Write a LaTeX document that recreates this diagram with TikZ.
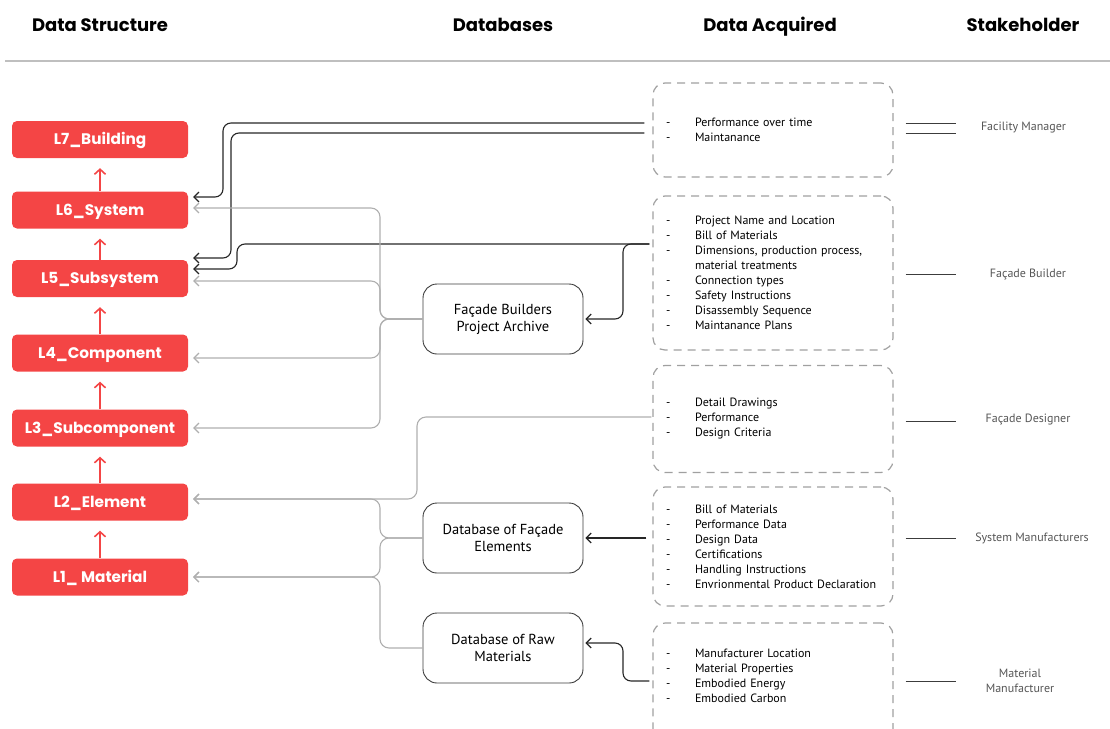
\documentclass[tikz,border=0pt]{standalone}
\usepackage{fontspec}
\setmainfont{PT Sans}
\newfontfamily\headfont{Poppins}
\usepackage{xcolor}
\usepackage{tikz}
\usetikzlibrary{arrows.meta,positioning,calc}
\definecolor{lred}{RGB}{244,69,69}
\definecolor{lgray}{RGB}{175,175,175}
\definecolor{dgray}{RGB}{60,60,60}
\definecolor{dashgray}{RGB}{160,160,160}
\definecolor{stxt}{RGB}{85,85,85}
\newcommand{\itm}[1]{\makebox[29pt][l]{-}#1}
\newcommand{\itc}[1]{\hspace*{29pt}#1}
\tikzset{
  head/.style  ={anchor=base, font=\headfont\bfseries\fontsize{18}{21}\selectfont},
  lvl/.style   ={rectangle, rounded corners=5pt, fill=lred, draw=none,
                 minimum width=176pt, minimum height=37pt, text=white,
                 text height=12pt, text depth=1.5pt,
                 font=\headfont\bfseries\fontsize{15.3}{17}\selectfont},
  dbbox/.style ={rectangle, rounded corners=14pt, draw=dgray, line width=0.9pt,
                 minimum width=160pt, minimum height=70pt, align=center,
                 font=\fontsize{14.5}{17}\selectfont},
  acqbox/.style={rectangle, rounded corners=12pt, draw=dashgray, line width=1.2pt,
                 dash pattern=on 8pt off 6pt, minimum width=240pt, text width=214pt,
                 inner xsep=13pt, align=left, font=\fontsize{12}{15}\selectfont},
  stk/.style   ={font=\fontsize{12}{15.5}\selectfont, text=stxt, align=center},
  upar/.style  ={draw=lred, line width=1.6pt, -{Straight Barb[length=5pt,width=11pt]}},
  blk/.style   ={draw=black!85, line width=1.1pt, rounded corners=8pt,
                 -{Straight Barb[length=5pt,width=10pt]}},
  gry/.style   ={draw=lgray, line width=1.1pt, rounded corners=9pt,
                 -{Straight Barb[length=5pt,width=10pt]}},
  sline/.style ={draw=dgray, line width=1pt}
}
\begin{document}
\begin{tikzpicture}[x=1pt,y=-1pt]
\useasboundingbox (0,0) rectangle (1110,728);

% column headers
\node[head] (hstruct) at (100,31)  {Data Structure};
\node[head] (hdb)     at (503,31)  {Databases};
\node[head] (hacq)    at (770,31)  {Data Acquired};
\node[head] (hstake)  at (1023,31) {Stakeholder};
\draw[draw=black!25, line width=1.6pt] (5,61) -- (1110,61);

% data structure levels
\node[lvl] (l7) at (100,139.5) {L7\_Building};
\node[lvl] (l6) at (100,210)   {L6\_System};
\node[lvl] (l5) at (100,278.5) {L5\_Subsystem};
\node[lvl] (l4) at (100,353)   {L4\_Component};
\node[lvl] (l3) at (100,428)   {L3\_Subcomponent};
\node[lvl] (l2) at (100,502)   {L2\_Element};
\node[lvl] (l1) at (100,577)   {L1\_ Material};

\draw[upar] (l1.north) -- ([yshift=-10pt]l2.south);
\draw[upar] (l2.north) -- ([yshift=-10pt]l3.south);
\draw[upar] (l3.north) -- ([yshift=-10pt]l4.south);
\draw[upar] (l4.north) -- ([yshift=-10pt]l5.south);
\draw[upar] (l5.north) -- ([yshift=-10pt]l6.south);
\draw[upar] (l6.north) -- ([yshift=-10pt]l7.south);

% databases
\node[dbbox] (fbpa) at (503,319) {Façade Builders\\Project Archive};
\node[dbbox] (dfe)  at (503,538) {Database of Façade\\Elements};
\node[dbbox] (drm)  at (503,648) {Database of Raw\\Materials};

% data acquired
\node[acqbox, minimum height=94pt] (acq1) at (773,130)
  {\itm{Performance over time}\\\itm{Maintanance}};
\node[acqbox, minimum height=154pt] (acq2) at (773,273)
  {\itm{Project Name and Location}\\\itm{Bill of Materials}\\
   \itm{Dimensions, production process,}\\\itc{material treatments}\\
   \itm{Connection types}\\\itm{Safety Instructions}\\
   \itm{Disassembly Sequence}\\\itm{Maintanance Plans}};
\node[acqbox, minimum height=107pt] (acq3) at (773,419)
  {\itm{Detail Drawings}\\\itm{Performance}\\\itm{Design Criteria}};
\node[acqbox, minimum height=119pt] (acq4) at (773,546.5)
  {\itm{Bill of Materials}\\\itm{Performance Data}\\\itm{Design Data}\\
   \itm{Certifications}\\\itm{Handling Instructions}\\
   \itm{Envrionmental Product Declaration}};
\node[acqbox, minimum height=122pt] (acq5) at (773,684)
  {\itm{Manufacturer Location}\\\itm{Material Properties}\\
   \itm{Embodied Energy}\\\itm{Embodied Carbon}\\[2pt]\mbox{}};

% stakeholders
\node[stk] (sh1) at (1023.5,128) {Facility Manager};
\node[stk] (sh2) at (1028,274)   {Façade Builder};
\node[stk] (sh3) at (1028,420)   {Façade Designer};
\node[stk] (sh4) at (1032,538)   {System Manufacturers};
\node[stk] (sh5) at (1020,681)   {Material\\Manufacturer};

\draw[sline] ($(acq1.east)+(12,-7)$)   -- ++(50,0);
\draw[sline] ($(acq1.east)+(12,3)$)    -- ++(50,0);
\draw[sline] ($(acq2.east)+(12,1)$)    -- ++(50,0);
\draw[sline] ($(acq3.east)+(12,2)$)    -- ++(50,0);
\draw[sline] ($(acq4.east)+(12,-8.5)$) -- ++(50,0);
\draw[sline] ($(acq5.east)+(12,-3)$)   -- ++(50,0);

% acquired data -> levels and databases
\draw[blk] ($(acq1.west)+(-8,-7)$) -- (223,123) |- ($(l6.east)+(5,-13)$);
\draw[blk] ($(acq1.west)+(-8,3)$)  -- (231,133) |- ($(l5.east)+(5,-20.5)$);
\draw[blk] ($(acq2.west)+(-3,-29)$) -- (237,244) |- ($(l5.east)+(5,-9.5)$);
\draw[blk] ($(acq2.west)+(-3,-29)$) -- (623,244) |- ($(fbpa.east)+(2,0)$);
\draw[blk] ($(acq4.west)+(-6,-8.5)$) -- ($(dfe.east)+(2,0)$);
\draw[blk] ($(acq5.west)+(-3,-3)$) -- (623,681) |- ($(drm.east)+(2,-5)$);
\draw[gry] ($(acq3.west)+(-1,-2)$) -- (417,417) |- ($(l2.east)+(5,-3)$);

% databases -> levels
\draw[gry] (fbpa.west) -- (380,319) |- ($(l6.east)+(5,-2)$);
\draw[gry] (fbpa.west) -- (380,319) |- ($(l5.east)+(5,2.5)$);
\draw[gry] (fbpa.west) -- (380,319) |- ($(l4.east)+(5,5)$);
\draw[gry] (fbpa.west) -- (380,319) |- ($(l3.east)+(5,0)$);
\draw[gry] (dfe.west)  -- (380,538) |- ($(l2.east)+(5,-3)$);
\draw[gry] (dfe.west)  -- (380,538) |- ($(l1.east)+(5,0)$);
\draw[gry] (drm.west)  -- (380,648) |- ($(l1.east)+(5,0)$);
\end{tikzpicture}
\end{document}
